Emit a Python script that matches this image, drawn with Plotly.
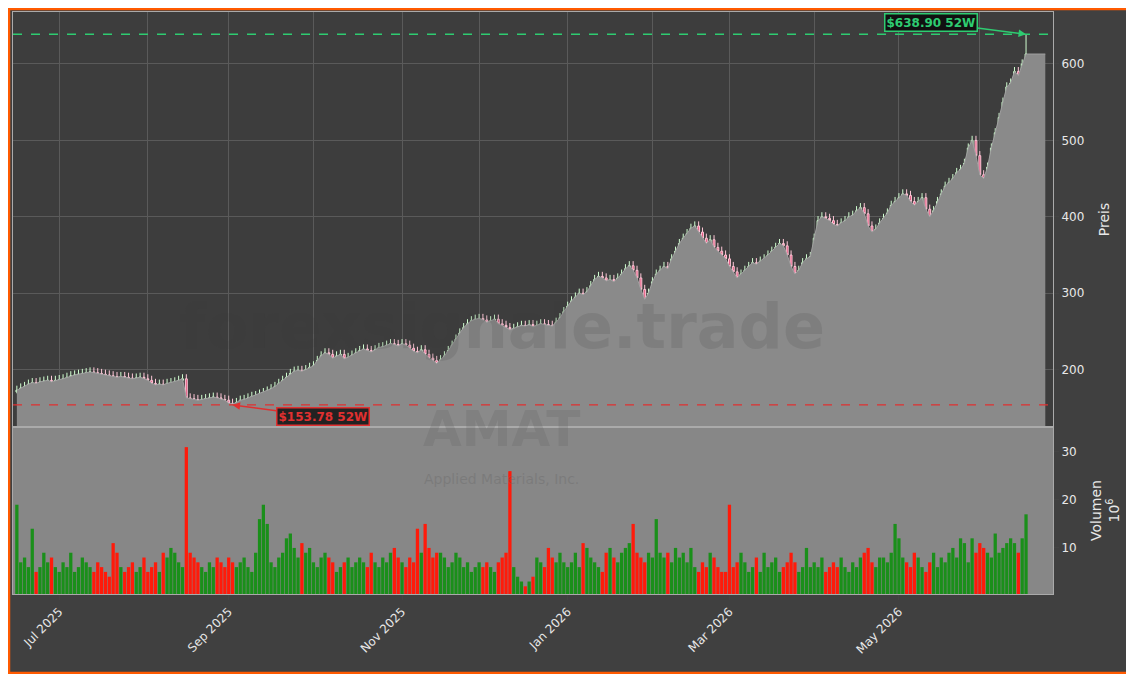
import pandas as pd
import plotly.graph_objects as go
from plotly.subplots import make_subplots

closes = [
 173,176,178,181,183,182,184,185,186,184,186,
 187,188,190,192,193,194,195,196,197,196,195,194,193,192,191,190,191,190,189,188,189,190,188,
 186,182,180,181,180,182,183,184,186,188,163,162,161,160,161,162,163,164,163,161,160,
 156,155,157,160,161,163,165,166,168,170,172,175,178,182,186,190,195,198,199,198,200,203,
 205,212,218,222,220,215,218,220,214,216,219,222,225,227,225,223,226,229,230,232,234,233,231,
 234,232,228,224,222,226,220,215,212,208,213,218,225,232,240,248,255,260,264,266,
 267,265,262,264,266,260,258,255,252,254,256,258,257,259,256,258,260,259,258,257,262,268,276,
 283,290,295,300,298,302,310,318,322,320,316,318,315,320,325,332,336,330,320,305,292,300,
 315,325,330,335,332,345,355,365,372,378,385,388,380,372,365,370,360,355,350,345,
 335,328,320,325,330,335,340,338,342,345,350,355,360,365,362,350,335,325,330,340,345,348,
 372,395,400,398,395,390,388,392,395,400,402,408,412,404,388,380,384,392,398,405,415,420,
 425,430,428,420,415,420,425,410,400,408,420,430,440,445,450,458,462,470,490,500,480,
 455,450,465,490,510,530,550,570,575,590,585,600,613,
]
volumes = [
 19,7,8,6,14,5,6,9,7,8,6,
 5,7,6,9,5,6,8,7,6,5,7,6,5,4,11,9,6,5,6,7,5,6,8,
 5,6,7,5,9,8,10,9,7,6,31,9,8,7,6,5,7,6,8,7,6,
 8,7,6,7,8,6,5,9,16,19,15,7,6,8,9,12,13,10,8,11,9,10,
 7,6,8,9,8,7,5,6,7,8,6,7,8,7,6,9,7,6,8,7,9,10,8,
 7,6,8,7,14,9,15,10,8,9,9,8,6,7,9,8,6,7,5,6,
 7,6,7,6,5,7,8,9,26,6,4,3,2,3,4,8,7,6,10,8,7,9,7,
 6,7,9,6,11,10,8,7,6,5,9,10,8,7,9,10,11,15,9,8,7,9,
 8,16,9,8,9,7,10,8,9,7,10,6,5,7,6,9,8,6,5,5,
 19,6,7,9,7,5,6,8,5,9,6,7,8,5,6,7,9,7,5,6,10,6,
 7,6,8,5,6,7,6,8,6,5,7,6,8,9,10,7,6,8,8,7,9,15,
 12,8,7,6,9,8,6,5,7,9,6,8,7,9,10,8,12,11,7,12,9,
 11,10,9,8,13,9,10,11,12,11,9,12,17,
]
high_52w = 638.90
low_52w = 153.78
tick_dates = ["2025-07-01", "2025-09-01", "2025-11-03", "2026-01-01", "2026-03-02", "2026-05-01"]
tick_text = ["Jul 2025", "Sep 2025", "Nov 2025", "Jan 2026", "Mar 2026", "May 2026"]

n = len(closes)
volumes = volumes[:n]
dates = pd.bdate_range("2025-06-16", periods=n)
opens = [closes[0] - 2] + closes[:-1]
highs = [max(o, c) + 6 for o, c in zip(opens, closes)]
lows = [min(o, c) - 2 for o, c in zip(opens, closes)]
hi_i = n - 1
highs[hi_i] = high_52w
lo_i = closes.index(min(closes))
lows[lo_i] = low_52w
ext = pd.bdate_range(dates[-1], periods=6)[-1]

fig = make_subplots(rows=2, cols=1, shared_xaxes=True, vertical_spacing=0,
                    row_heights=[0.713, 0.287])
fig.add_trace(go.Scatter(x=list(dates) + [ext], y=closes + [closes[-1]], mode="lines",
                         line=dict(color="#a0a0a0", width=1), fill="tozeroy",
                         fillcolor="#8a8a8a", hoverinfo="skip"), row=1, col=1)
fig.add_trace(go.Candlestick(x=dates, open=opens, high=highs, low=lows, close=closes,
    increasing=dict(line=dict(color="#d0ffd0", width=1), fillcolor="rgba(110,210,110,0.9)"),
    decreasing=dict(line=dict(color="#ffc8d8", width=1), fillcolor="#e0507a"),
    whiskerwidth=0), row=1, col=1)
colors = ["#1a8f1a" if c >= o else "#ff1a0a" for o, c in zip(opens, closes)]
fig.add_trace(go.Bar(x=dates, y=volumes, marker=dict(color=colors, line=dict(width=0))),
              row=2, col=1)

fig.add_hline(y=high_52w, line=dict(color="#2ecc71", dash="dash", width=1.3), row=1, col=1)
fig.add_hline(y=low_52w, line=dict(color="#e03030", dash="dash", width=1.3), row=1, col=1)
fig.add_annotation(x=dates[hi_i], y=high_52w, xref="x", yref="y", text="<b>$638.90 52W</b>",
    font=dict(color="#2ecc71", size=12, family="DejaVu Sans"), bgcolor="#111111",
    bordercolor="#2ecc71", borderwidth=1.5, showarrow=True, arrowhead=2, arrowcolor="#2ecc71",
    arrowwidth=1.5, ax=-95, ay=-12)
fig.add_annotation(x=dates[lo_i], y=low_52w, xref="x", yref="y", text="<b>$153.78 52W</b>",
    font=dict(color="#e03030", size=12, family="DejaVu Sans"), bgcolor="#222222",
    bordercolor="#e03030", borderwidth=1.5, showarrow=True, arrowhead=2, arrowcolor="#e03030",
    arrowwidth=1.5, ax=90, ay=12)
fig.add_annotation(text="<b>forexsignale.trade</b>", xref="paper", yref="paper", x=0.47, y=0.46,
    showarrow=False, font=dict(size=62, color="rgba(60,60,60,0.15)", family="DejaVu Sans"))
fig.add_annotation(text="<b>AMAT</b>", xref="paper", yref="paper", x=0.47, y=0.23,
    showarrow=False, font=dict(size=50, color="rgba(100,100,100,0.25)", family="DejaVu Sans"))
fig.add_annotation(text="Applied Materials, Inc.", xref="paper", yref="paper", x=0.47, y=0.18,
    showarrow=False, font=dict(size=14, color="rgba(100,100,100,0.35)", family="DejaVu Sans"))

fig.add_shape(type="rect", xref="x2 domain", yref="y2 domain", x0=0, x1=1, y0=0, y1=1,
              fillcolor="#878787", line=dict(width=0), layer="below")
fig.add_shape(type="rect", xref="paper", yref="paper", x0=-4/1040, x1=1+80/1040,
              y0=-79/582, y1=1+3/582, line=dict(color="#ff5a00", width=2.5), layer="below")

fig.update_layout(width=1134, height=674, margin=dict(l=5, r=89, t=4, b=88),
    paper_bgcolor="#404040", plot_bgcolor="#3d3d3d", showlegend=False, bargap=0.15,
    font=dict(family="DejaVu Sans", color="#e8e8e8", size=12))
fig.update_xaxes(rangeslider_visible=False, rangebreaks=[dict(bounds=["sat", "mon"])],
                 range=[dates[0] - pd.Timedelta(days=1), ext + pd.Timedelta(days=2)],
                 gridcolor="#5a5a5a", showline=True, linecolor="#aaaaaa", mirror=True)
fig.update_xaxes(showgrid=True, dtick="M1", showticklabels=False, row=1, col=1)
fig.update_xaxes(showgrid=False, tickvals=pd.to_datetime(tick_dates),
                 ticktext=tick_text, tickangle=-45, ticks="outside", row=2, col=1)
fig.update_yaxes(side="right", gridcolor="#5a5a5a", showline=True, linecolor="#aaaaaa",
                 ticks="outside", mirror=True)
fig.update_yaxes(range=[125, 668], tickvals=[200, 300, 400, 500, 600], title_text="Preis",
                 row=1, col=1)
fig.update_yaxes(range=[0.4, 35.2], tickvals=[10, 20, 30], showgrid=False,
                 title_text="Volumen<br>10<sup>6</sup>", row=2, col=1)
fig.write_html("out.html")
